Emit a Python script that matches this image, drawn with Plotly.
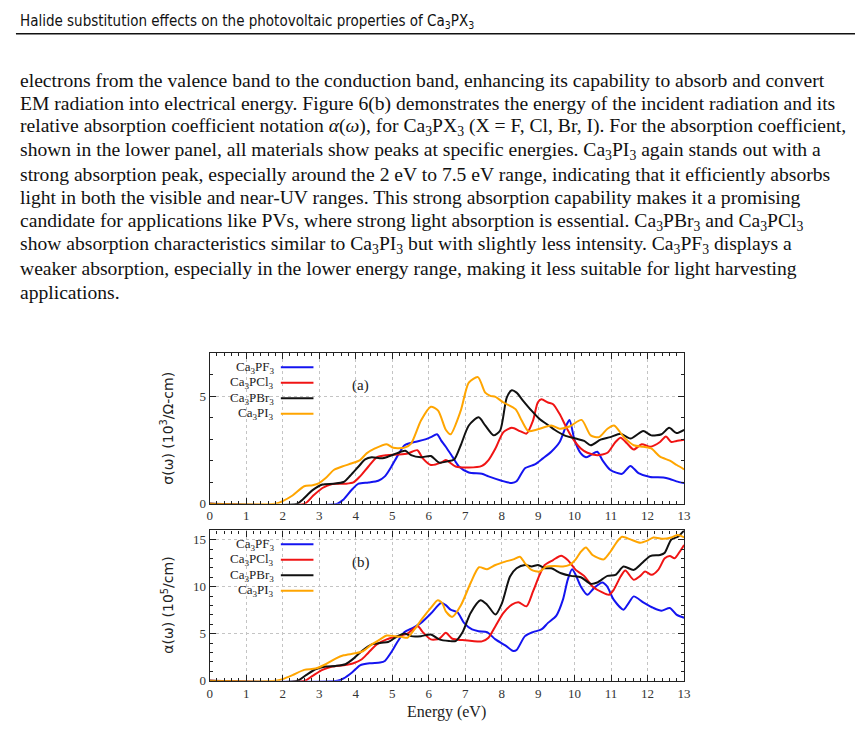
import plotly.graph_objects as go

W, H = 863, 754

# ---- sigma(w) panel (a), 10^3 / Ohm-cm ----
E_SIG_PF3 = [0, 3.5, 3.67, 3.9, 4.08, 4.35, 4.62, 4.8, 4.98, 5.16, 5.34, 5.61, 5.88, 6.06, 6.23, 6.34, 6.47,
             6.65, 6.83, 7.1, 7.46, 7.64, 8.0, 8.28, 8.41, 8.64, 8.91, 9.13, 9.36, 9.59, 9.77, 9.86, 10.0,
             10.17, 10.31, 10.44, 10.62, 10.76, 10.98, 11.3, 11.53, 11.75, 12.07, 12.43, 12.61, 12.79, 13.0]
SIG_PF3 = [0, 0, 0.2, 0.66, 0.93, 0.99, 1.07, 1.27, 1.73, 2.26, 2.72, 2.87, 2.98, 3.1, 3.23, 2.95, 2.65,
           2.19, 1.73, 1.45, 1.39, 1.27, 1.07, 0.96, 1.04, 1.65, 1.83, 2.11, 2.42, 2.87, 3.64, 3.9, 2.95,
           2.34, 2.16, 2.26, 2.42, 2.03, 1.57, 1.39, 1.76, 1.42, 1.24, 1.22, 1.15, 1.04, 0.96]

E_SIG_PCL3 = [0, 2.6, 2.82, 3.09, 3.36, 3.72, 3.94, 4.12, 4.35, 4.58, 4.85, 5.16, 5.43, 5.69, 5.84, 6.06,
              6.34, 6.47, 6.74, 7.1, 7.46, 7.64, 7.83, 8.05, 8.28, 8.5, 8.68, 8.86, 8.99, 9.09, 9.27, 9.41,
              9.59, 9.77, 9.95, 10.17, 10.35, 10.62, 10.9, 11.12, 11.26, 11.44, 11.62, 11.84, 12.07, 12.34,
              12.5, 12.65, 12.79, 13.0]
SIG_PCL3 = [0, 0, 0.35, 0.73, 0.92, 0.93, 0.99, 1.27, 1.73, 2.16, 2.26, 2.29, 2.34, 2.49, 2.11, 1.8,
            1.91, 2.03, 1.73, 1.68, 1.76, 2.03, 2.57, 3.33, 3.53, 3.38, 3.26, 3.87, 4.71, 4.86, 4.71, 4.63,
            4.17, 3.56, 3.03, 2.57, 2.37, 2.26, 2.37, 2.87, 3.07, 2.8, 2.52, 2.77, 2.65, 2.87,
            3.13, 2.87, 2.92, 2.98]

E_SIG_PBR3 = [0, 2.4, 2.55, 2.82, 3.09, 3.4, 3.67, 3.85, 4.08, 4.26, 4.44, 4.71, 4.89, 5.12, 5.36, 5.52,
              5.79, 6.06, 6.29, 6.52, 6.7, 6.88, 7.1, 7.37, 7.55, 7.78, 7.96, 8.14, 8.28, 8.41, 8.59, 8.82,
              9.04, 9.22, 9.45, 9.72, 10.03, 10.26, 10.44, 10.71, 10.98, 11.26, 11.53, 11.88, 12.1, 12.38,
              12.59, 12.79, 13.0]
SIG_PBR3 = [0, 0, 0.2, 0.63, 0.89, 0.93, 1.01, 1.3, 1.73, 2.06, 2.16, 2.11, 2.19, 2.34, 2.46, 2.26,
            2.16, 2.22, 1.91, 1.97, 2.06, 2.72, 3.64, 4.02, 3.64, 3.18, 3.41, 4.94, 5.28, 5.17, 4.79, 4.33,
            3.94, 3.72, 3.44, 3.18, 3.03, 2.92, 2.72, 2.98, 3.1, 3.26, 3.03, 3.38, 3.18, 3.23,
            3.53, 3.29, 3.44]

E_SIG_PI3 = [0, 1.8, 2.0, 2.27, 2.59, 2.82, 3.0, 3.18, 3.4, 3.63, 3.9, 4.12, 4.3, 4.53, 4.85, 5.03, 5.34,
             5.52, 5.79, 6.06, 6.26, 6.47, 6.6, 6.88, 7.1, 7.35, 7.55, 7.69, 7.83, 8.05, 8.38, 8.55, 8.73,
             8.95, 9.36, 9.59, 9.86, 10.19, 10.44, 10.67, 10.9, 11.08, 11.35, 11.62, 11.88, 12.1, 12.34,
             12.61, 12.8, 13.0]
SIG_PI3 = [0, 0, 0.12, 0.38, 0.81, 0.86, 0.96, 1.19, 1.57, 1.73, 1.88, 2.03, 2.34, 2.57, 2.77, 2.6, 2.61,
           2.8, 3.87, 4.51, 4.33, 3.44, 3.23, 4.33, 5.63, 5.89, 5.17, 5.02, 4.97, 4.71, 4.4, 3.87, 3.38,
           3.44, 3.64, 3.49, 3.59, 3.9, 3.18, 3.1, 3.49, 3.64, 3.1, 2.72, 2.65, 2.57, 2.19,
           2.0, 1.8, 1.6]

# ---- alpha(w) panel (b), 10^5 / cm ----
E_ALP_PF3 = [0, 3.5, 3.67, 3.9, 4.12, 4.4, 4.67, 4.8, 4.98, 5.16, 5.34, 5.57, 5.79, 6.06, 6.34, 6.47, 6.6,
             6.79, 6.97, 7.19, 7.37, 7.6, 7.83, 8.1, 8.32, 8.41, 8.64, 8.86, 9.09, 9.27, 9.5, 9.68, 9.81,
             9.93, 10.03, 10.17, 10.35, 10.53, 10.76, 10.89, 11.07, 11.34, 11.48, 11.62, 11.88, 12.16,
             12.38, 12.61, 12.79, 13.0]
ALP_PF3 = [0, 0, 0.25, 0.88, 1.65, 1.87, 1.94, 2.11, 3.06, 4.23, 5.18, 5.63, 6.16, 7.15, 8.27, 8.05, 7.57,
           7.29, 6.16, 5.46, 5.28, 5.18, 4.4, 3.77, 3.17, 3.27, 4.75, 5.18, 5.46, 6.16, 6.94, 8.63, 10.74,
           11.87, 11.27, 10.04, 9.15, 9.86, 10.46, 10.04, 8.63, 7.57, 8.27, 8.98, 8.35, 7.75,
           7.46, 7.75, 7.04, 6.7]

E_ALP_PCL3 = [0, 2.6, 2.82, 3.09, 3.36, 3.67, 3.94, 4.17, 4.35, 4.58, 4.85, 5.16, 5.43, 5.7, 5.84, 6.06,
              6.29, 6.47, 6.65, 6.92, 7.19, 7.46, 7.64, 7.83, 8.05, 8.28, 8.46, 8.68, 8.86, 9.04, 9.18,
              9.41, 9.63, 9.81, 10.03, 10.26, 10.49, 10.76, 10.94, 11.07, 11.26, 11.39, 11.62, 11.8,
              11.93, 12.11, 12.29, 12.47, 12.61, 12.74, 12.88, 13.0]
ALP_PCL3 = [0, 0, 0.53, 1.16, 1.51, 1.65, 1.87, 2.29, 2.99, 3.87, 4.4, 4.75, 5.04, 5.81, 5.18, 4.4,
            4.47, 5.1, 4.47, 4.33, 4.23, 4.19, 4.58, 5.81, 7.22, 8.1, 8.35, 7.92, 9.51, 11.27, 12.32,
            12.85, 13.31, 12.85, 11.8, 11.16, 10.04, 9.4, 9.15, 9.68, 11.09, 11.73, 10.74, 11.16,
            11.62, 11.27, 11.8, 13.03, 13.27, 13.03, 13.73, 14.44]

E_ALP_PBR3 = [0, 2.4, 2.64, 2.9, 3.18, 3.45, 3.72, 3.94, 4.17, 4.44, 4.71, 4.89, 5.12, 5.34, 5.52, 5.79,
              6.06, 6.29, 6.56, 6.74, 6.92, 7.15, 7.42, 7.6, 7.83, 8.01, 8.23, 8.41, 8.64, 8.82, 9.0,
              9.18, 9.36, 9.63, 9.9, 10.17, 10.44, 10.62, 10.9, 11.12, 11.34, 11.62, 11.84, 12.07, 12.34,
              12.47, 12.65, 12.83, 13.0]
ALP_PBR3 = [0, 0, 0.6, 1.23, 1.51, 1.58, 1.76, 2.36, 3.17, 3.87, 4.05, 4.12, 4.68, 5.04, 4.75, 4.75,
            4.93, 4.4, 4.23, 4.23, 5.1, 7.22, 8.56, 8.1, 7.04, 8.27, 11.09, 11.97, 12.32, 12.15, 12.32,
            11.97, 11.97, 11.44, 11.16, 11.02, 10.32, 10.46, 11.16, 11.27, 12.15, 11.8, 12.5, 13.27, 13.38,
            13.63, 15.04, 15.32, 16.0]

E_ALP_PI3 = [0, 1.8, 2.0, 2.27, 2.59, 2.9, 3.18, 3.45, 3.67, 3.99, 4.21, 4.44, 4.67, 4.85, 5.07, 5.25,
             5.42, 5.61, 5.84, 6.06, 6.25, 6.38, 6.47, 6.65, 6.88, 7.15, 7.38, 7.6, 7.83, 8.1, 8.32, 8.5,
             8.64, 8.82, 9.04, 9.22, 9.45, 9.68, 9.86, 10.03, 10.17, 10.31, 10.49, 10.67, 10.8, 10.98,
             11.16, 11.3, 11.53, 11.8, 11.98, 12.16, 12.43, 12.65, 12.83, 13.0]
ALP_PI3 = [0, 0, 0.18, 0.6, 1.16, 1.3, 1.76, 2.36, 2.71, 2.92, 3.17, 3.87, 4.4, 4.82, 4.75, 4.68,
           4.58, 5.46, 6.69, 7.75, 8.56, 8.2, 7.39, 6.8, 8.0, 10.4, 12.08, 11.87, 12.32, 12.68, 12.92, 13.2,
           12.5, 11.8, 11.62, 12.15, 12.22, 12.15, 12.32, 12.92, 13.73, 14.19, 13.38, 13.03, 12.92, 13.73,
           14.79, 15.32, 15.04, 14.68, 14.89, 15.25, 15.1, 15.25, 15.5, 15.25]

NAMES = ["Ca<sub>3</sub>PF<sub>3</sub>", "Ca<sub>3</sub>PCl<sub>3</sub>",
         "Ca<sub>3</sub>PBr<sub>3</sub>", "Ca<sub>3</sub>PI<sub>3</sub>"]
COLORS = ["#1414f0", "#f01414", "#111111", "#ffa500"]

HEADER = "Halide substitution effects on the photovoltaic properties of Ca<sub>3</sub>PX<sub>3</sub>"
PARAGRAPH = [
    "electrons from the valence band to the conduction band, enhancing its capability to absorb and convert",
    "EM radiation into electrical energy. Figure 6(b) demonstrates the energy of the incident radiation and its",
    "relative absorption coefficient notation <i>α</i>(<i>ω</i>), for Ca<sub>3</sub>PX<sub>3</sub> (X = F, Cl, Br, I). For the absorption coefficient,",
    "shown in the lower panel, all materials show peaks at specific energies. Ca<sub>3</sub>PI<sub>3</sub> again stands out with a",
    "strong absorption peak, especially around the 2 eV to 7.5 eV range, indicating that it efficiently absorbs",
    "light in both the visible and near-UV ranges. This strong absorption capability makes it a promising",
    "candidate for applications like PVs, where strong light absorption is essential. Ca<sub>3</sub>PBr<sub>3</sub> and Ca<sub>3</sub>PCl<sub>3</sub>",
    "show absorption characteristics similar to Ca<sub>3</sub>PI<sub>3</sub> but with slightly less intensity. Ca<sub>3</sub>PF<sub>3</sub> displays a",
    "weaker absorption, especially in the lower energy range, making it less suitable for light harvesting",
    "applications.",
]


def px(x):
    return x / W


def py(y):
    return 1 - y / H


SERIF = "Liberation Serif, Times New Roman, serif"

fig = go.Figure()

sig = [(E_SIG_PF3, SIG_PF3), (E_SIG_PCL3, SIG_PCL3), (E_SIG_PBR3, SIG_PBR3), (E_SIG_PI3, SIG_PI3)]
alp = [(E_ALP_PF3, ALP_PF3), (E_ALP_PCL3, ALP_PCL3), (E_ALP_PBR3, ALP_PBR3), (E_ALP_PI3, ALP_PI3)]

for (ex, ey), name, col in zip(sig, NAMES, COLORS):
    fig.add_trace(go.Scatter(x=ex, y=ey, mode="lines", name=name, xaxis="x", yaxis="y",
                             line=dict(color=col, width=2, shape="spline", smoothing=0.7),
                             showlegend=False))
for (ex, ey), name, col in zip(alp, NAMES, COLORS):
    fig.add_trace(go.Scatter(x=ex, y=ey, mode="lines", name=name, xaxis="x2", yaxis="y2",
                             line=dict(color=col, width=2, shape="spline", smoothing=0.7),
                             showlegend=False))

frame = dict(showline=True, linecolor="#222", linewidth=1.3, mirror="allticks",
             ticks="inside", ticklen=6, tickcolor="#222", tickwidth=1,
             showgrid=True, gridcolor="#c4c4c4", griddash="dot", gridwidth=1, zeroline=False,
             tickfont=dict(family=SERIF, size=13, color="#333"))

xdom = [px(201), px(681)]
fig.update_layout(
    width=W, height=H,
    margin=dict(l=0, r=0, t=0, b=0),
    paper_bgcolor="white", plot_bgcolor="white",
    xaxis=dict(frame, domain=xdom, range=[0, 13], dtick=1, anchor="y",
               minor=dict(ticks="inside", ticklen=3, dtick=0.2, tickcolor="#222", showgrid=False)),
    yaxis=dict(frame, domain=[py(501), py(349)], range=[0, 7], tickvals=[0, 5], anchor="x",
               minor=dict(ticks="inside", ticklen=3, dtick=1, tickcolor="#222", showgrid=False)),
    xaxis2=dict(frame, domain=xdom, range=[0, 13], dtick=1, anchor="y2",
                minor=dict(ticks="inside", ticklen=3, dtick=0.2, tickcolor="#222", showgrid=False)),
    yaxis2=dict(frame, domain=[py(680), py(528)], range=[0, 16], dtick=5, anchor="x2",
                minor=dict(ticks="inside", ticklen=3, dtick=1, tickcolor="#222", showgrid=False)),
)

ann = []
shapes = []

# page header and rule
ann.append(dict(x=px(7), y=py(14), text=HEADER, showarrow=False, xanchor="left", yanchor="middle",
                font=dict(family="Liberation Sans Narrow, DejaVu Sans Condensed, Open Sans", size=15, color="#111")))
shapes.append(dict(type="line", xref="paper", yref="paper", x0=px(5), x1=px(858), y0=py(26), y1=py(26),
                   line=dict(color="#111", width=1.5)))

# body text
for i, line in enumerate(PARAGRAPH):
    ann.append(dict(x=px(7), y=py(73 + i * 23.8), text=line, showarrow=False, xanchor="left",
                    yanchor="middle", font=dict(family=SERIF, size=19.6, color="#111")))

# panel legends and labels
for top, lab in [(363, "(a)"), (542, "(b)")]:
    for k, (name, col) in enumerate(zip(NAMES, COLORS)):
        yy = top + k * 15.7
        ann.append(dict(x=px(268), y=py(yy), text=name, showarrow=False, xanchor="right", yanchor="middle",
                        font=dict(family=SERIF, size=13, color="#222")))
        shapes.append(dict(type="line", xref="paper", yref="paper", x0=px(273), x1=px(306),
                           y0=py(yy), y1=py(yy), line=dict(color=col, width=2)))
    ann.append(dict(x=px(354), y=py(top + 18.5), text=lab, showarrow=False, xanchor="center", yanchor="middle",
                    font=dict(family=SERIF, size=15, color="#222")))

# axis titles
ann.append(dict(x=px(158), y=py(425), text="σ(ω) (10<sup>3</sup>/Ω-cm)", showarrow=False, textangle=-90,
                xanchor="center", yanchor="middle", font=dict(family="DejaVu Sans", size=14, color="#222")))
ann.append(dict(x=px(158), y=py(604), text="α(ω) (10<sup>5</sup>/cm)", showarrow=False, textangle=-90,
                xanchor="center", yanchor="middle", font=dict(family="DejaVu Sans", size=14, color="#222")))
ann.append(dict(x=px(441), y=py(712), text="Energy (eV)", showarrow=False, xanchor="center", yanchor="middle",
                font=dict(family=SERIF, size=16, color="#222")))

for a in ann:
    a.setdefault("xref", "paper")
    a.setdefault("yref", "paper")
fig.update_layout(annotations=ann, shapes=shapes)

fig.write_html("out.html")
